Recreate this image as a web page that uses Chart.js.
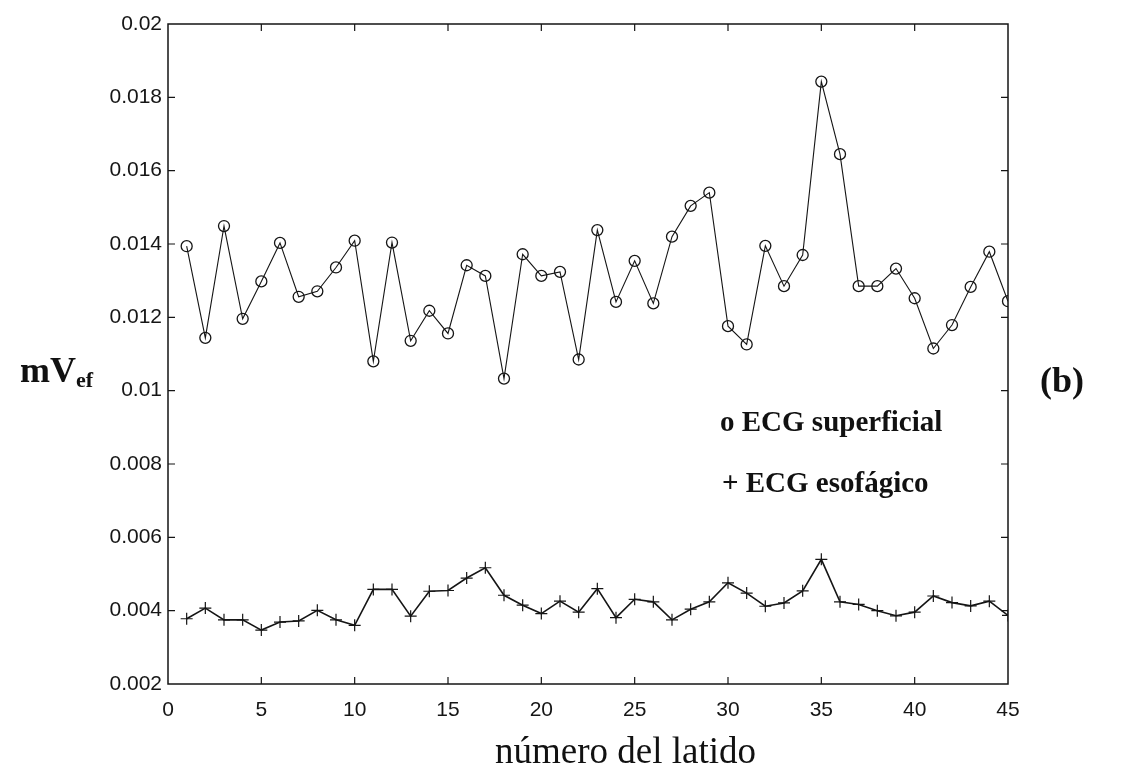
<!DOCTYPE html>
<html>
<head>
<meta charset="utf-8">
<script src="https://cdn.jsdelivr.net/npm/chart.js@4.4.0/dist/chart.umd.min.js"></script>
<style>
  body { margin: 0; background: #fff; }
  #wrap { position: relative; width: 1133px; height: 767px; }
  .txt { position: absolute; font-family: 'Liberation Serif', 'Times New Roman', serif; color: #111; line-height: 1; white-space: nowrap; }
</style>
</head>
<body>
<div id="wrap">
  <canvas id="ecgChart" width="1133" height="767"></canvas>
  <div class="txt" style="left:20px; top:352px; font-size:36px; font-weight:bold;">mV<sub style="font-size:22px; vertical-align:-5px;">ef</sub></div>
  <div class="txt" style="left:1040px; top:362px; font-size:36px; font-weight:bold;">(b)</div>
  <div class="txt" style="left:720px; top:407px; font-size:29px; font-weight:bold;">o ECG superficial</div>
  <div class="txt" style="left:722px; top:468px; font-size:29px; font-weight:bold;">+ ECG esofágico</div>
  <div class="txt" style="left:495px; top:732px; font-size:37px;">número del latido</div>
</div>
<script>
// numero de latido
const latidos = [1, 2, 3, 4, 5, 6, 7, 8, 9, 10, 11, 12, 13, 14, 15, 16, 17, 18, 19, 20, 21, 22, 23,
  24, 25, 26, 27, 28, 29, 30, 31, 32, 33, 34, 35, 36, 37, 38, 39, 40, 41, 42, 43, 44, 45];

// o ECG superficial
const superficial = [0.01394, 0.01144, 0.01449, 0.01196, 0.01298, 0.01403, 0.01256, 0.01271, 0.01336, 0.01409,
  0.0108, 0.01404, 0.01136, 0.01218, 0.01156, 0.01342, 0.01313, 0.01033, 0.01372, 0.01313,
  0.01324, 0.01085, 0.01438, 0.01242, 0.01354, 0.01238, 0.0142, 0.01504, 0.0154, 0.01176,
  0.01126, 0.01395, 0.01285, 0.0137, 0.01843, 0.01645, 0.01285, 0.01285, 0.01333, 0.01252,
  0.01115, 0.01179, 0.01283, 0.01379, 0.01244];

// + ECG esofagico
const esofagico = [0.00378, 0.00407, 0.00375, 0.00375, 0.00347, 0.00369, 0.00372, 0.00401, 0.00375, 0.0036,
  0.00458, 0.00458, 0.00385, 0.00453, 0.00455, 0.00489, 0.00517, 0.00442, 0.00415, 0.00392,
  0.00426, 0.00396, 0.0046, 0.00381, 0.00431, 0.00424, 0.00375, 0.00404, 0.00424, 0.00476,
  0.00448, 0.00412, 0.00421, 0.00454, 0.0054, 0.00424, 0.00417, 0.004, 0.00386, 0.00396,
  0.0044, 0.00422, 0.00413, 0.00426, 0.00387];

const xTicks = [0, 5, 10, 15, 20, 25, 30, 35, 40, 45];
const yTicks = [0.002, 0.004, 0.006, 0.008, 0.01, 0.012, 0.014, 0.016, 0.018, 0.02];

const ink = '#151515';

// box round the plot with the little ticks pointing inwards, like matlab
const boxPlugin = {
  id: 'boxTicks',
  afterDraw(chart) {
    const { ctx, chartArea: a, scales } = chart;
    const len = 7;
    ctx.save();
    ctx.strokeStyle = ink;
    ctx.lineWidth = 1.5;
    ctx.strokeRect(a.left, a.top, a.right - a.left, a.bottom - a.top);
    ctx.lineWidth = 1.2;
    ctx.beginPath();
    xTicks.slice(1, -1).forEach(v => {
      const px = scales.x.getPixelForValue(v);
      ctx.moveTo(px, a.bottom); ctx.lineTo(px, a.bottom - len);
      ctx.moveTo(px, a.top); ctx.lineTo(px, a.top + len);
    });
    yTicks.slice(1, -1).forEach(v => {
      const py = scales.y.getPixelForValue(v);
      ctx.moveTo(a.left, py); ctx.lineTo(a.left + len, py);
      ctx.moveTo(a.right, py); ctx.lineTo(a.right - len, py);
    });
    ctx.stroke();
    ctx.restore();
  }
};

new Chart(document.getElementById('ecgChart'), {
  type: 'line',
  data: {
    datasets: [
      {
        label: 'ECG superficial',
        data: latidos.map((n, i) => ({ x: n, y: superficial[i] })),
        borderColor: ink,
        borderWidth: 1.1,
        pointStyle: 'circle',
        pointRadius: 5.5,
        pointBorderWidth: 1.3,
        pointBorderColor: ink,
        pointBackgroundColor: 'rgba(255,255,255,0)',
        tension: 0
      },
      {
        label: 'ECG esofágico',
        data: latidos.map((n, i) => ({ x: n, y: esofagico[i] })),
        borderColor: ink,
        borderWidth: 1.6,
        pointStyle: 'cross',
        pointRadius: 6,
        pointBorderWidth: 1.2,
        pointBorderColor: ink,
        tension: 0
      }
    ]
  },
  options: {
    responsive: false,
    animation: false,
    devicePixelRatio: 1,
    layout: { padding: { left: 0, top: 24, right: 125, bottom: 0 } },
    plugins: {
      legend: { display: false },
      tooltip: { enabled: false }
    },
    scales: {
      x: {
        type: 'linear',
        min: 0,
        max: 45,
        afterFit: s => { s.height = 83; },
        afterBuildTicks: s => { s.ticks = xTicks.map(v => ({ value: v })); },
        grid: { display: false, drawTicks: false },
        border: { display: false },
        ticks: {
          padding: 14,
          color: ink,
          font: { family: "'Liberation Sans', Arial, sans-serif", size: 21 }
        }
      },
      y: {
        min: 0.002,
        max: 0.02,
        afterFit: s => { s.width = 168; },
        afterBuildTicks: s => { s.ticks = yTicks.map(v => ({ value: v })); },
        grid: { display: false, drawTicks: false },
        border: { display: false },
        ticks: {
          padding: 6,
          color: ink,
          font: { family: "'Liberation Sans', Arial, sans-serif", size: 21 },
          callback: v => String(Number(v.toFixed(3)))
        }
      }
    }
  },
  plugins: [boxPlugin]
});
</script>
</body>
</html>
